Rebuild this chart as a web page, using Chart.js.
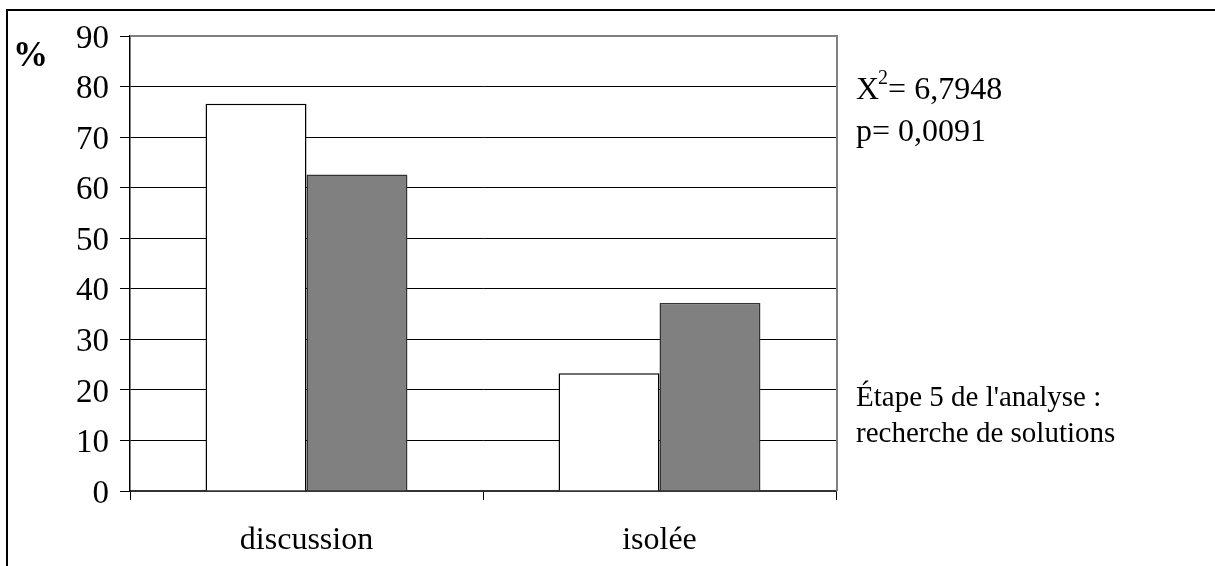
<!DOCTYPE html>
<html lang="fr">
<head>
<meta charset="utf-8">
<title>Étape 5 de l'analyse : recherche de solutions</title>
<script src="https://cdn.jsdelivr.net/npm/chart.js@4.4.1/dist/chart.umd.min.js"></script>
<style>
  html, body { margin: 0; padding: 0; background: #ffffff; }
  #wrap { width: 1215px; height: 566px; position: relative; }
</style>
</head>
<body>
<div id="wrap"><canvas id="chart" width="1215" height="566"></canvas></div>
<script>
// Categories and series (percentages)
const categories = ['discussion', 'isolée'];
const seriesWhite = [76.6, 23.3];
const seriesGray = [62.6, 37.2];
const yTicks = [0, 10, 20, 30, 40, 50, 60, 70, 80, 90];

// Side annotations
const statLine1 = { base: 'X', sup: '2', rest: '= 6,7948' };
const statLine2 = 'p= 0,0091';
const captionLines = ["Étape 5 de l'analyse :", 'recherche de solutions'];
const unitLabel = '%';

const FONT = '"Liberation Serif", "Times New Roman", serif';

const decorPlugin = {
  id: 'decor',
  afterDraw(chart) {
    const ctx = chart.ctx;
    const area = chart.chartArea;
    ctx.save();

    // outer frame: left and top rules
    ctx.strokeStyle = '#000';
    ctx.lineWidth = 2;
    ctx.beginPath();
    ctx.moveTo(7, 566);
    ctx.lineTo(7, 10);
    ctx.lineTo(1215, 10);
    ctx.stroke();

    // plot area top and right border (gray)
    ctx.strokeStyle = '#808080';
    ctx.lineWidth = 2;
    ctx.beginPath();
    ctx.moveTo(area.left, area.top);
    ctx.lineTo(area.right + 1, area.top);
    ctx.lineTo(area.right + 1, area.bottom);
    ctx.stroke();

    // unit label
    ctx.fillStyle = '#000';
    ctx.textBaseline = 'alphabetic';
    ctx.textAlign = 'left';
    ctx.font = 'bold 35px ' + FONT;
    ctx.fillText(unitLabel, 13, 66);

    // chi-square statistic
    ctx.font = '32px ' + FONT;
    let x = 856;
    ctx.fillText(statLine1.base, x, 99);
    x += ctx.measureText(statLine1.base).width;
    ctx.font = '20px ' + FONT;
    ctx.fillText(statLine1.sup, x - 1, 84);
    x += ctx.measureText(statLine1.sup).width - 1;
    ctx.font = '32px ' + FONT;
    ctx.fillText(statLine1.rest, x, 99);
    ctx.fillText(statLine2, 856, 141);

    // caption
    ctx.font = '29px ' + FONT;
    ctx.fillText(captionLines[0], 856, 406);
    ctx.fillText(captionLines[1], 856, 442);

    ctx.restore();
  }
};

new Chart(document.getElementById('chart'), {
  type: 'bar',
  data: {
    labels: categories,
    datasets: [
      {
        data: seriesWhite,
        backgroundColor: '#ffffff',
        borderColor: '#000000',
        borderWidth: 1.5,
        borderSkipped: 'bottom'
      },
      {
        data: seriesGray,
        backgroundColor: '#808080',
        borderColor: '#333333',
        borderWidth: 1.5,
        borderSkipped: 'bottom'
      }
    ]
  },
  options: {
    responsive: false,
    animation: false,
    devicePixelRatio: 1,
    layout: { padding: { left: 0, top: 36, right: 379, bottom: 0 } },
    categoryPercentage: 0.572,
    barPercentage: 1.0,
    plugins: {
      legend: { display: false },
      tooltip: { enabled: false },
      title: { display: false }
    },
    scales: {
      x: {
        type: 'category',
        offset: true,
        grid: {
          display: true,
          drawOnChartArea: false,
          drawTicks: true,
          tickLength: 9,
          offset: true,
          color: '#000',
          tickColor: '#000',
          lineWidth: 1
        },
        border: { display: true, color: '#333', width: 2 },
        ticks: {
          color: '#000',
          font: { family: FONT, size: 32 },
          padding: 21,
          maxRotation: 0,
          autoSkip: false
        },
        afterFit(scale) { scale.height = 75; }
      },
      y: {
        min: 0,
        max: 90,
        afterBuildTicks(scale) { scale.ticks = yTicks.map(v => ({ value: v })); },
        grid: {
          display: true,
          drawTicks: true,
          tickLength: 10,
          color: (c) => (c.tick && c.tick.value === 90) ? 'rgba(0,0,0,0)' : '#000',
          tickColor: '#000',
          lineWidth: 1
        },
        border: { display: true, color: '#000', width: 1.5 },
        ticks: {
          color: '#000',
          font: { family: FONT, size: 33 },
          padding: 11,
          labelOffset: 3
        },
        afterFit(scale) { scale.width = 130; }
      }
    }
  },
  plugins: [decorPlugin]
});
</script>
</body>
</html>
